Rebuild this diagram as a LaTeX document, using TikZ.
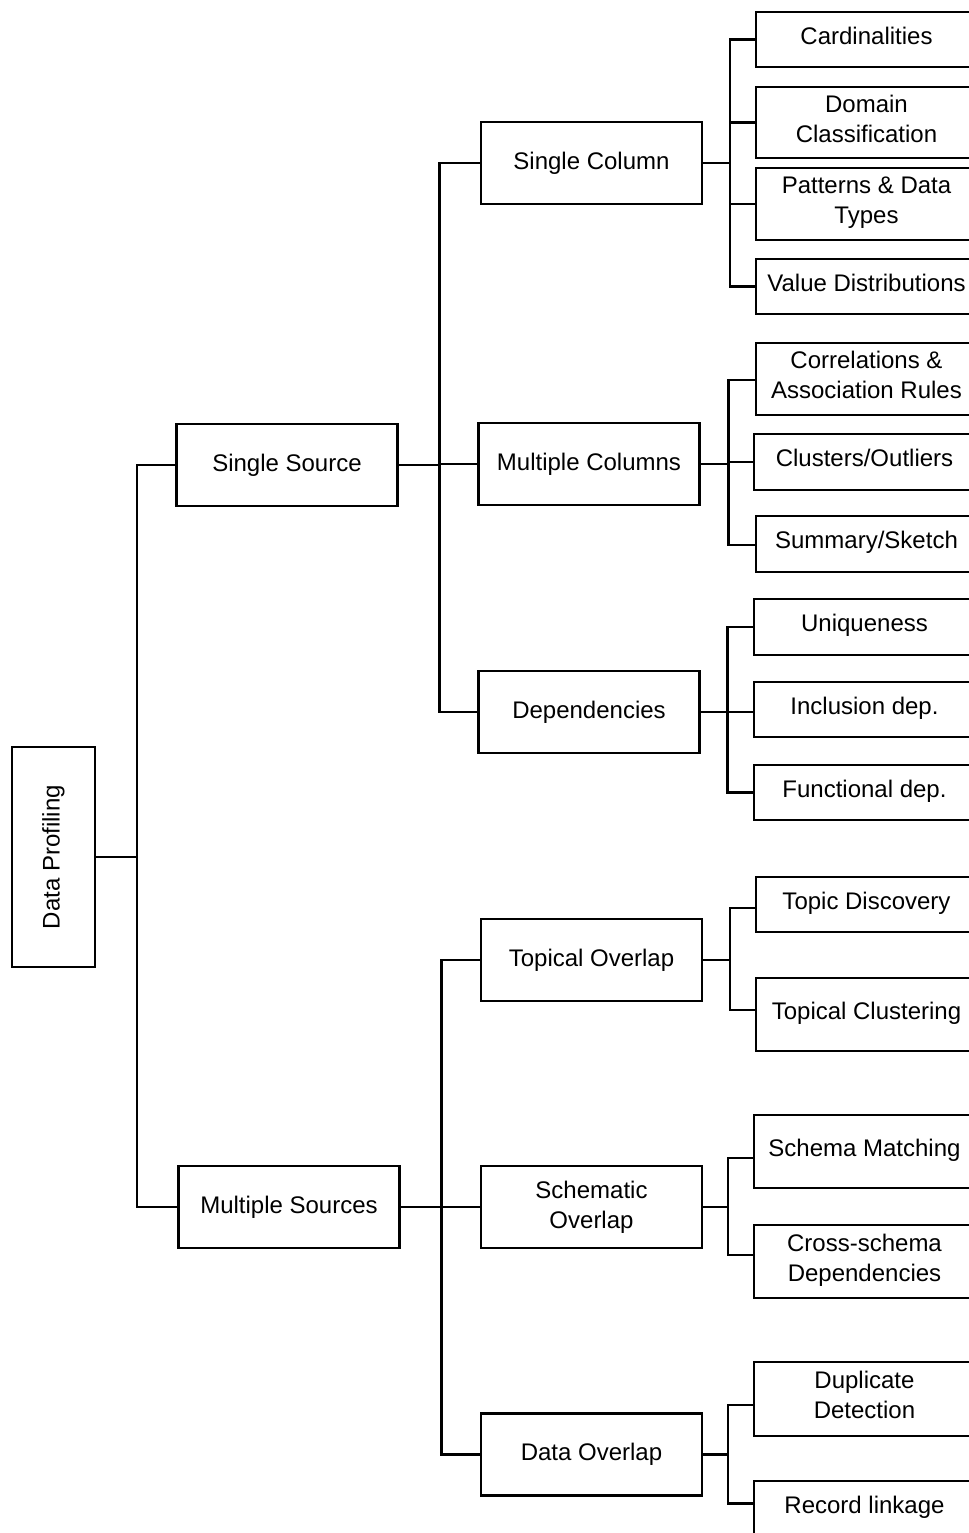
\documentclass[tikz,border=0pt]{standalone}
\usepackage{fontspec}
\setmainfont{Liberation Sans}
\usetikzlibrary{calc}
\tikzset{
  box/.style={draw, line width=1.1pt, align=center, inner sep=0pt, font=\fontsize{12}{15}\selectfont},
  mid/.style={box, minimum width=110.5pt, minimum height=41pt},
  leaf/.style={box, minimum width=110.5pt, text depth=4pt},
  conn/.style={line width=1.25pt}
}
\begin{document}
\begin{tikzpicture}[x=0.5pt,y=-0.5pt]
\useasboundingbox (0,0) rectangle (969,1533);
\clip (0,0) rectangle (969,1533);
% root
\node[box, minimum width=41.5pt, minimum height=110pt, font=\fontsize{12}{14}\selectfont] (dp) at (53.5,857) {\rotatebox{90}{Data Profiling}};
% level 1
\node[mid] (ss) at (287,465) {Single Source};
\node[mid] (ms) at (289,1207) {Multiple Sources};
% level 2
\node[mid] (sc) at (591.5,163) {Single Column};
\node[mid] (mc) at (589,464) {Multiple Columns};
\node[mid] (dep) at (589,712) {Dependencies};
\node[mid] (to) at (591.5,960) {Topical Overlap};
\node[mid] (so) at (591.5,1207) {Schematic\\Overlap};
\node[mid] (do) at (591.5,1454.5) {Data Overlap};
% leaves
\node[leaf, minimum height=27.5pt] (card) at (866.5,39.5) {Cardinalities};
\node[leaf, minimum height=35.5pt] (dc) at (866.5,122.5) {Domain\\Classification};
\node[leaf, minimum height=36pt] (pd) at (866.5,204) {Patterns \& Data\\Types};
\node[leaf, minimum height=27.5pt] (vd) at (866.5,286.5) {Value Distributions};
\node[leaf, minimum height=36pt] (car) at (866.5,379) {Correlations \&\\Association Rules};
\node[leaf, minimum height=28pt] (clu) at (864.5,462) {Clusters/Outliers};
\node[leaf, minimum height=28pt] (sum) at (866.5,544) {Summary/Sketch};
\node[leaf, minimum height=28pt] (uni) at (864.5,627) {Uniqueness};
\node[leaf, minimum height=27.5pt] (inc) at (864.5,709.5) {Inclusion dep.};
\node[leaf, minimum height=27.5pt] (fun) at (864.5,792.5) {Functional dep.};
\node[leaf, minimum height=27.5pt] (td) at (866.5,904.5) {Topic Discovery};
\node[leaf, minimum height=36.5pt] (tc) at (866.5,1014.5) {Topical Clustering};
\node[leaf, minimum height=36.5pt] (sm) at (864.5,1151.5) {Schema Matching};
\node[leaf, minimum height=36.5pt] (cs) at (864.5,1261.5) {Cross-schema\\Dependencies};
\node[leaf, minimum height=37pt] (dd) at (864.5,1399) {Duplicate\\Detection};
\node[leaf, minimum height=27.5pt] (rl) at (864.5,1508.5) {Record linkage};
% trunks
\coordinate (t0) at ($(dp.east)+(41,0)$);
\coordinate (t1) at ($(ss.east)+(41,0)$);
\coordinate (t2) at ($(ms.east)+(41,0)$);
\coordinate (t3) at ($(sc.east)+(27,0)$);
\coordinate (t4) at ($(mc.east)+(28,0)$);
\coordinate (t5) at ($(dep.east)+(27,0)$);
\coordinate (t6) at ($(to.east)+(27,0)$);
\coordinate (t7) at ($(so.east)+(25,0)$);
\coordinate (t8) at ($(do.east)+(25,0)$);
\draw[conn] (dp.east) -- (t0);
\draw[conn] (t0) |- (ss.west);
\draw[conn] (t0) |- (ms.west);
\draw[conn] (ss.east) -- (t1);
\foreach \c in {sc,mc,dep} \draw[conn] (t1) |- (\c.west);
\draw[conn] (ms.east) -- (t2);
\foreach \c in {to,so,do} \draw[conn] (t2) |- (\c.west);
\draw[conn] (sc.east) -- (t3);
\foreach \c in {card,dc,pd,vd} \draw[conn] (t3) |- (\c.west);
\draw[conn] (mc.east) -- (t4);
\foreach \c/\o in {car/1,clu/0,sum/1} \draw[conn] (t4) |- ($(\c.west)+(0,\o)$);
\draw[conn] (dep.east) -- (t5);
\foreach \c/\o in {uni/0,inc/2.5,fun/0} \draw[conn] (t5) |- ($(\c.west)+(0,\o)$);
\draw[conn] (to.east) -- (t6);
\foreach \c/\o in {td/3.5,tc/-4.5} \draw[conn] (t6) |- ($(\c.west)+(0,\o)$);
\draw[conn] (so.east) -- (t7);
\foreach \c/\o in {sm/6.5,cs/-6.5} \draw[conn] (t7) |- ($(\c.west)+(0,\o)$);
\draw[conn] (do.east) -- (t8);
\foreach \c/\o in {dd/6,rl/-5} \draw[conn] (t8) |- ($(\c.west)+(0,\o)$);
\end{tikzpicture}
\end{document}
